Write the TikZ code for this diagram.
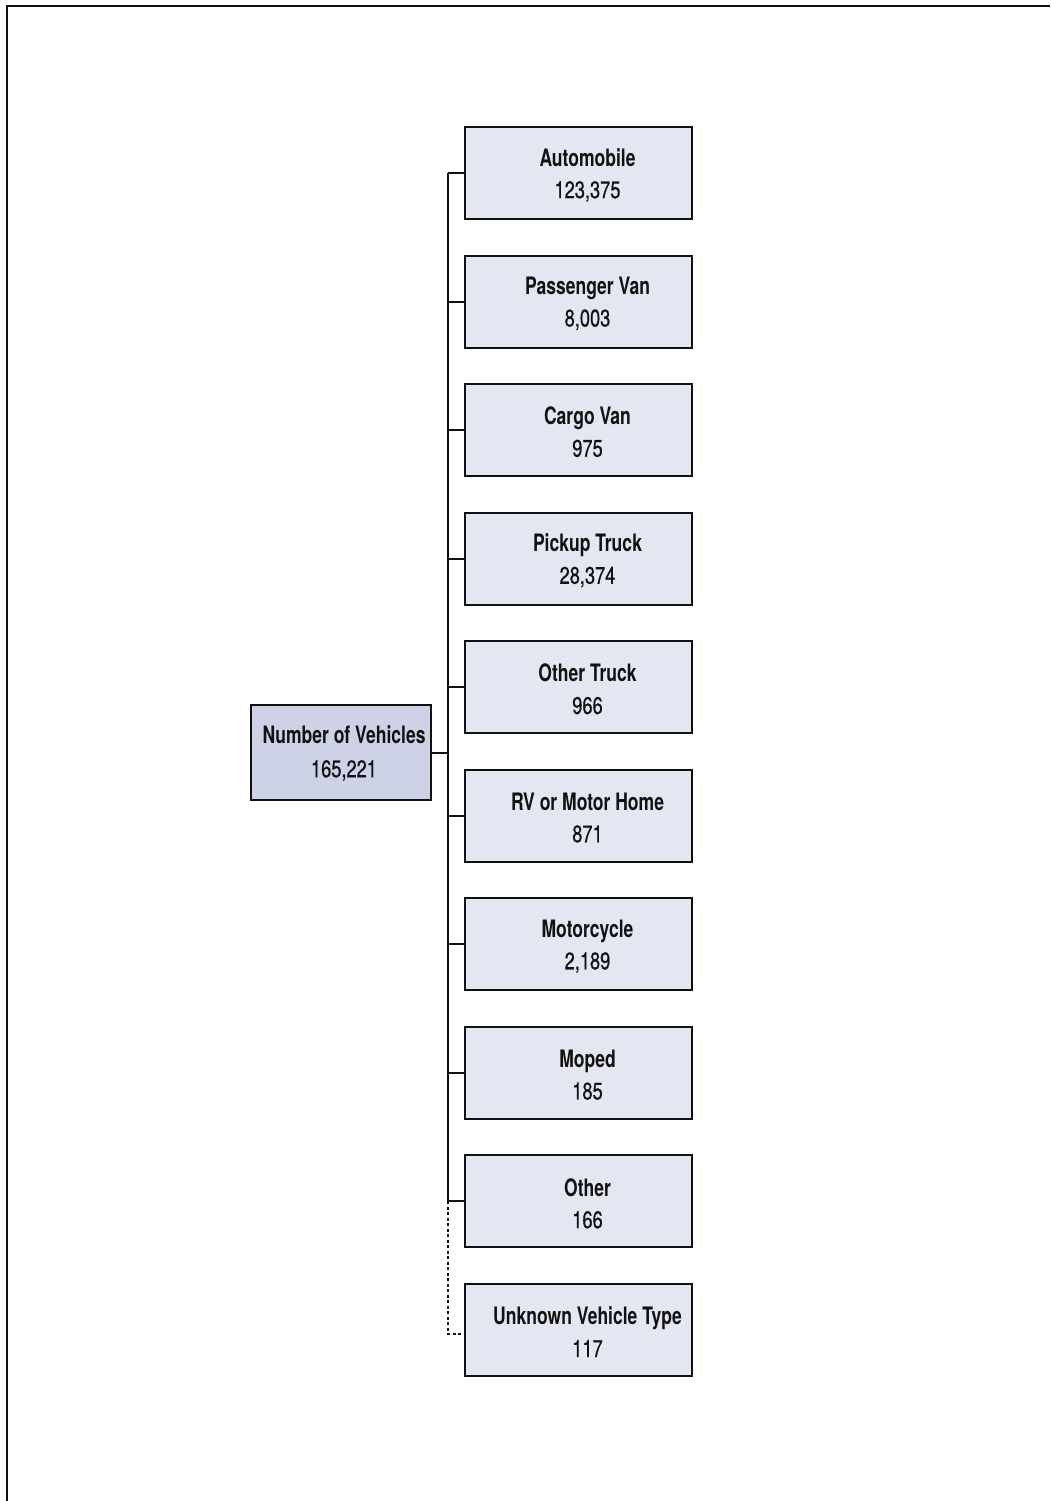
\documentclass[tikz,border=0pt]{standalone}
\usepackage{fontspec}
\newfontfamily\headfont[FakeStretch=0.73]{TeX Gyre Heros}
\newfontfamily\countfont[FakeStretch=0.76,FakeBold=0.6]{TeX Gyre Heros}
\definecolor{childfill}{RGB}{228,230,242}
\definecolor{rootfill}{RGB}{205,210,230}
\definecolor{ink}{RGB}{17,17,17}
\newcommand{\vlabel}[2]{{\headfont\bfseries #1}\\{\countfont #2}}
\tikzset{
  box/.style={draw=ink, line width=2pt, inner sep=0pt},
  childbox/.style={box, fill=childfill, minimum width=227pt, minimum height=92pt},
  rootbox/.style={box, fill=rootfill, minimum width=180pt, minimum height=95pt},
  boxtext/.style={inner sep=0pt, align=center, text=ink,
    font=\fontsize{24}{32}\selectfont},
  roottext/.style={boxtext, font=\fontsize{24}{34}\selectfont},
  link/.style={draw=ink, line width=2pt},
  linkdash/.style={draw=ink, line width=1.6pt, dash pattern=on 3pt off 2.5pt}
}
\begin{document}
\begin{tikzpicture}[x=1pt,y=-1pt]
\useasboundingbox (0,0) rectangle (1050,1501);
% page frame (top and left rules)
\draw[line width=2pt, ink] (6.5,1501) -- (6.5,6.5) -- (1050,6.5);

% root
\node[rootbox] (root) at (341,752.5) {};
\node[roottext] (roott) at ([xshift=3pt,yshift=-0.5pt]root.center) {\vlabel{Number of Vehicles}{165,221}};

% vehicle categories: boxes
\node[childbox] (c1)  at (578.5,173)    {};
\node[childbox] (c2)  at (578.5,301.5)  {};
\node[childbox] (c3)  at (578.5,430)    {};
\node[childbox] (c4)  at (578.5,558.6)  {};
\node[childbox] (c5)  at (578.5,687.2)  {};
\node[childbox] (c6)  at (578.5,815.7)  {};
\node[childbox] (c7)  at (578.5,944.3)  {};
\node[childbox] (c8)  at (578.5,1072.9) {};
\node[childbox] (c9)  at (578.5,1201.4) {};
\node[childbox] (c10) at (578.5,1330)   {};

% vehicle categories: labels
\tikzset{ctext/.style={boxtext, xshift=9pt, yshift=-2pt}}
\node[ctext] (t1)  at (c1)  {\vlabel{Automobile}{123,375}};
\node[ctext] (t2)  at (c2)  {\vlabel{Passenger Van}{8,003}};
\node[ctext] (t3)  at (c3)  {\vlabel{Cargo Van}{975}};
\node[ctext] (t4)  at (c4)  {\vlabel{Pickup Truck}{28,374}};
\node[ctext] (t5)  at (c5)  {\vlabel{Other Truck}{966}};
\node[ctext] (t6)  at (c6)  {\vlabel{RV or Motor Home}{871}};
\node[ctext] (t7)  at (c7)  {\vlabel{Motorcycle}{2,189}};
\node[ctext] (t8)  at (c8)  {\vlabel{Moped}{185}};
\node[ctext] (t9)  at (c9)  {\vlabel{Other}{166}};
\node[ctext] (t10) at (c10) {\vlabel{Unknown Vehicle Type}{117}};

% trunk
\coordinate (ttop) at (448,173);
\coordinate (tbot) at (448,1201.4);
\draw[link] (ttop) -- (tbot);
\draw[link] (root.east) -- (root.east -| ttop);
\foreach \i in {1,...,9} {
  \draw[link] (c\i.west) -- (c\i.west -| ttop);
}
% unknown type: dotted branch
\draw[linkdash] (tbot) -- ([yshift=-4pt]c10.west -| tbot) -- ([yshift=-4pt]c10.west);
\end{tikzpicture}
\end{document}
